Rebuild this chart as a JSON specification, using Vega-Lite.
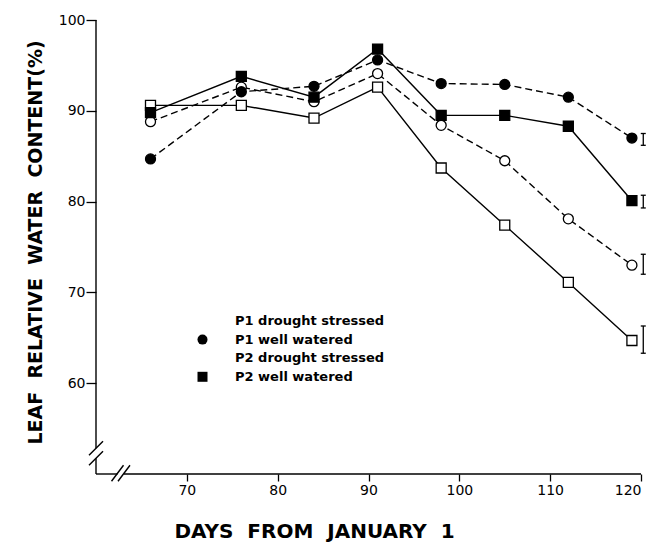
{
  "$schema": "https://vega.github.io/schema/vega-lite/v6.json",
  "width": 545,
  "height": 454,
  "autosize": {"type": "none"},
  "padding": {"left": 96, "top": 20, "right": 17, "bottom": 72},
  "background": "white",
  "config": {"view": {"stroke": null}, "font": "DejaVu Sans"},
  "datasets": {
    "wc": [
      {"day": 66, "rwc": 88.8, "series": "P1 drought stressed"},
      {"day": 76, "rwc": 92.6, "series": "P1 drought stressed"},
      {"day": 84, "rwc": 91.0, "series": "P1 drought stressed"},
      {"day": 91, "rwc": 94.1, "series": "P1 drought stressed"},
      {"day": 98, "rwc": 88.4, "series": "P1 drought stressed"},
      {"day": 105, "rwc": 84.5, "series": "P1 drought stressed"},
      {"day": 112, "rwc": 78.1, "series": "P1 drought stressed"},
      {"day": 119, "rwc": 73.0, "series": "P1 drought stressed"},
      {"day": 66, "rwc": 84.7, "series": "P1 well watered"},
      {"day": 76, "rwc": 92.1, "series": "P1 well watered"},
      {"day": 84, "rwc": 92.7, "series": "P1 well watered"},
      {"day": 91, "rwc": 95.6, "series": "P1 well watered"},
      {"day": 98, "rwc": 93.0, "series": "P1 well watered"},
      {"day": 105, "rwc": 92.9, "series": "P1 well watered"},
      {"day": 112, "rwc": 91.5, "series": "P1 well watered"},
      {"day": 119, "rwc": 87.0, "series": "P1 well watered"},
      {"day": 66, "rwc": 90.6, "series": "P2 drought stressed"},
      {"day": 76, "rwc": 90.6, "series": "P2 drought stressed"},
      {"day": 84, "rwc": 89.2, "series": "P2 drought stressed"},
      {"day": 91, "rwc": 92.6, "series": "P2 drought stressed"},
      {"day": 98, "rwc": 83.7, "series": "P2 drought stressed"},
      {"day": 105, "rwc": 77.4, "series": "P2 drought stressed"},
      {"day": 112, "rwc": 71.1, "series": "P2 drought stressed"},
      {"day": 119, "rwc": 64.7, "series": "P2 drought stressed"},
      {"day": 66, "rwc": 89.8, "series": "P2 well watered"},
      {"day": 76, "rwc": 93.8, "series": "P2 well watered"},
      {"day": 84, "rwc": 91.5, "series": "P2 well watered"},
      {"day": 91, "rwc": 96.8, "series": "P2 well watered"},
      {"day": 98, "rwc": 89.5, "series": "P2 well watered"},
      {"day": 105, "rwc": 89.5, "series": "P2 well watered"},
      {"day": 112, "rwc": 88.3, "series": "P2 well watered"},
      {"day": 119, "rwc": 80.1, "series": "P2 well watered"}
    ],
    "err": [
      {"day": 120.25, "lo": 86.2, "hi": 87.5, "series": "P1 well watered"},
      {"day": 120.25, "lo": 79.3, "hi": 80.7, "series": "P2 well watered"},
      {"day": 120.25, "lo": 72.0, "hi": 74.2, "series": "P1 drought stressed"},
      {"day": 120.25, "lo": 63.3, "hi": 66.3, "series": "P2 drought stressed"}
    ],
    "axislines": [
      {"day": 60, "rwc": 100, "day2": 60, "rwc2": 52.84},
      {"day": 60, "rwc": 51.74, "day2": 60, "rwc2": 50},
      {"day": 60, "rwc": 50, "day2": 62.37, "rwc2": 50},
      {"day": 63.08, "rwc": 50, "day2": 120, "rwc2": 50},
      {"day": 59.23, "rwc": 52.07, "day2": 60.77, "rwc2": 53.61},
      {"day": 59.23, "rwc": 50.96, "day2": 60.77, "rwc2": 52.51},
      {"day": 61.71, "rwc": 49.2, "day2": 63.03, "rwc2": 50.96},
      {"day": 62.42, "rwc": 49.2, "day2": 63.74, "rwc2": 50.96}
    ]
  },
  "layer": [
    {
      "data": {"name": "wc"},
      "transform": [{"filter": "datum.series === 'P1 drought stressed' || datum.series === 'P1 well watered'"}],
      "mark": {"type": "line", "stroke": "black", "strokeWidth": 1.4, "strokeDash": [7, 4]},
      "encoding": {
        "x": {
          "field": "day", "type": "quantitative",
          "scale": {"domain": [60, 120], "nice": false, "zero": false},
          "axis": {
            "title": "DAYS\u00a0 FROM\u00a0 JANUARY\u00a0 1",
            "values": [70, 80, 90, 100, 110, 120],
            "domain": false, "grid": false,
            "tickSize": 7, "tickColor": "black", "tickWidth": 1.3,
            "labelFont": "DejaVu Sans", "labelFontSize": 14, "labelColor": "black", "labelPadding": 2,
            "titleFont": "DejaVu Sans", "titleFontSize": 20, "titleFontWeight": "bold", "titleColor": "black",
            "titleX": 218, "titleY": 57, "titleBaseline": "middle", "titleAlign": "center"
          }
        },
        "y": {
          "field": "rwc", "type": "quantitative",
          "scale": {"domain": [50, 100], "nice": false, "zero": false},
          "axis": {
            "title": "LEAF\u00a0 RELATIVE\u00a0 WATER\u00a0 CONTENT(%)",
            "values": [60, 70, 80, 90, 100],
            "domain": false, "grid": false,
            "tickSize": 10, "tickColor": "black", "tickWidth": 1.3,
            "labelFont": "DejaVu Sans", "labelFontSize": 14, "labelColor": "black", "labelPadding": 1,
            "titleFont": "DejaVu Sans", "titleFontSize": 19, "titleFontWeight": "bold", "titleColor": "black",
            "titleX": -61, "titleY": 222, "titleAngle": -90, "titleBaseline": "middle", "titleAlign": "center"
          }
        },
        "detail": {"field": "series", "type": "nominal"}
      }
    },
    {
      "data": {"name": "wc"},
      "transform": [{"filter": "datum.series === 'P2 drought stressed' || datum.series === 'P2 well watered'"}],
      "mark": {"type": "line", "stroke": "black", "strokeWidth": 1.4},
      "encoding": {
        "x": {"field": "day", "type": "quantitative"},
        "y": {"field": "rwc", "type": "quantitative"},
        "detail": {"field": "series", "type": "nominal"}
      }
    },
    {
      "data": {"name": "wc"},
      "mark": {"type": "point", "size": 100, "stroke": "black", "strokeWidth": 1.3, "opacity": 1, "filled": false},
      "encoding": {
        "x": {"field": "day", "type": "quantitative"},
        "y": {"field": "rwc", "type": "quantitative"},
        "shape": {
          "field": "series", "type": "nominal",
          "scale": {
            "domain": ["P1 drought stressed", "P1 well watered", "P2 drought stressed", "P2 well watered"],
            "range": ["circle", "circle", "square", "square"]
          },
          "legend": {
            "orient": "none", "legendX": 100, "legendY": 294.5, "title": null,
            "padding": 0, "rowPadding": 1.6,
            "symbolSize": 100, "symbolStrokeWidth": 1.3, "symbolStrokeColor": "black", "symbolOffset": 0,
            "labelFont": "DejaVu Sans", "labelFontSize": 13, "labelFontWeight": "bold", "labelColor": "black",
            "labelOffset": 26, "labelLimit": 300
          }
        },
        "fill": {
          "field": "series", "type": "nominal",
          "scale": {
            "domain": ["P1 drought stressed", "P1 well watered", "P2 drought stressed", "P2 well watered"],
            "range": ["white", "black", "white", "black"]
          }
        }
      }
    },
    {
      "data": {"name": "err"},
      "mark": {"type": "rule", "color": "black", "strokeWidth": 1.3},
      "encoding": {
        "x": {"field": "day", "type": "quantitative"},
        "y": {"field": "lo", "type": "quantitative"},
        "y2": {"field": "hi"}
      }
    },
    {
      "data": {"name": "err"},
      "mark": {"type": "tick", "orient": "horizontal", "size": 5, "thickness": 1.3, "color": "black", "opacity": 1},
      "encoding": {
        "x": {"field": "day", "type": "quantitative"},
        "y": {"field": "lo", "type": "quantitative"}
      }
    },
    {
      "data": {"name": "err"},
      "mark": {"type": "tick", "orient": "horizontal", "size": 5, "thickness": 1.3, "color": "black", "opacity": 1},
      "encoding": {
        "x": {"field": "day", "type": "quantitative"},
        "y": {"field": "hi", "type": "quantitative"}
      }
    },
    {
      "data": {"name": "axislines"},
      "mark": {"type": "rule", "color": "black", "strokeWidth": 1.4},
      "encoding": {
        "x": {"field": "day", "type": "quantitative"},
        "y": {"field": "rwc", "type": "quantitative"},
        "x2": {"field": "day2"},
        "y2": {"field": "rwc2"}
      }
    }
  ]
}
